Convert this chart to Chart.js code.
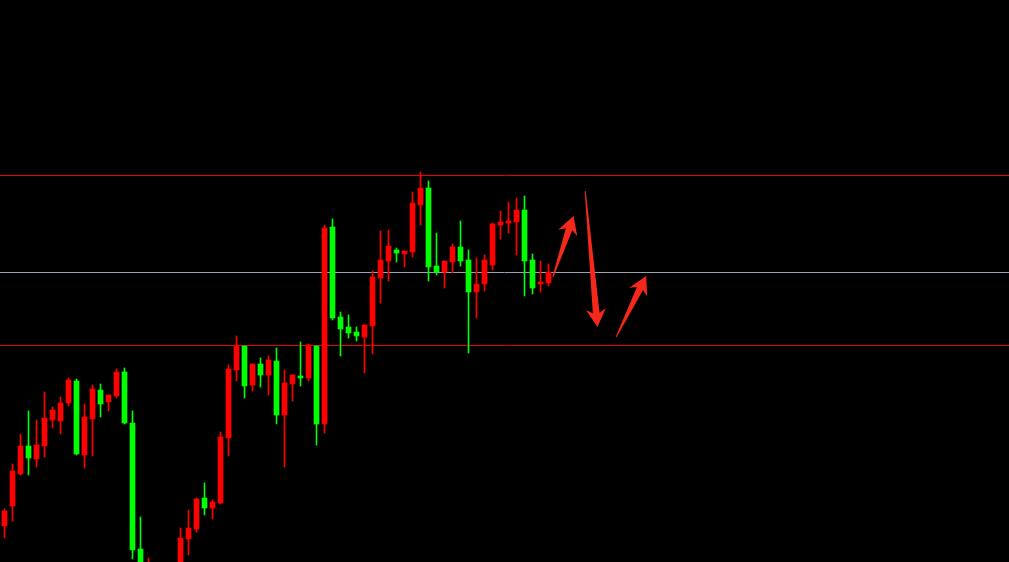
<!DOCTYPE html>
<html>
<head>
<meta charset="utf-8">
<script src="https://cdn.jsdelivr.net/npm/chart.js@4/dist/chart.umd.min.js"></script>
<style>
  html, body { margin: 0; padding: 0; background: #000; }
  #wrap { width: 1009px; height: 562px; }
</style>
</head>
<body>
<div id="wrap"><canvas id="kchart" width="1009" height="562"></canvas></div>
<script>
// candle data (open / high / low / close), one entry per bar
const opens  = [1036,1056,1088,1116,1103,1116,1142,1141,1159,1181,1107,1143,1172,1160,1166,1190,1139,1013,970,972,985,978,988,1023,1033,1064,1054,1059,1124,1192,1216,1177,1198,1187,1201,1147,1178,1186,1184,1216,1138,1335,1245,1235,1230,1225,1236,1284,1301,1312,1308,1310,1357,1374,1296,1290,1300,1315,1302,1270,1278,1297,1337,1339,1340,1352,1302,1278,1279];
const highs  = [1053,1098,1128,1151,1142,1170,1155,1165,1184,1183,1158,1177,1178,1167,1193,1194,1151,1045,1004,992,996,995,1034,1052,1064,1079,1062,1130,1197,1226,1216,1198,1204,1206,1214,1192,1187,1220,1218,1216,1337,1343,1250,1247,1235,1237,1291,1331,1332,1314,1311,1370,1390,1381,1329,1301,1318,1341,1312,1304,1307,1339,1351,1360,1364,1366,1308,1301,1298];
const lows   = [1024,1041,1087,1087,1095,1105,1134,1128,1156,1107,1094,1106,1145,1151,1164,1138,1003,975,960,962,970,968,980,1007,1030,1047,1043,1058,1106,1181,1164,1171,1175,1167,1138,1095,1161,1176,1181,1117,1129,1242,1206,1224,1221,1189,1208,1259,1281,1300,1295,1305,1337,1281,1287,1274,1289,1296,1209,1244,1271,1292,1323,1329,1307,1266,1268,1270,1276];
const closes = [1051,1091,1116,1104,1117,1144,1152,1159,1182,1108,1145,1173,1158,1167,1190,1139,1012,985,990,988,978,990,1024,1034,1063,1054,1060,1125,1193,1216,1176,1198,1187,1202,1147,1179,1187,1184,1217,1138,1334,1244,1233,1229,1226,1237,1285,1302,1316,1309,1311,1359,1374,1295,1290,1301,1315,1301,1270,1278,1302,1338,1340,1341,1352,1301,1274,1280,1290];

// horizontal levels
const redLevels = [1387, 1217];
const grayLevels = [1290];

// arrows: [fromIndex, fromPrice, toIndex, toPrice]
const arrows = [
    [68.55, 1285, 71.13, 1346],
    [72.59, 1371, 74.12, 1235],
    [76.46, 1225, 80.21, 1286]
];

const UP = '#ff0000';
const DOWN = '#00ff00';

const bodies = [];
const wicks = [];
const colors = [];
for (let i = 0; i < opens.length; i++) {
    bodies.push({ x: i, y: [opens[i], closes[i]] });
    wicks.push({ x: i, y: [lows[i], highs[i]] });
    colors.push(closes[i] >= opens[i] ? UP : DOWN);
}

const levelsPlugin = {
    id: 'levels',
    beforeDatasetsDraw(chart) {
        const { ctx, chartArea, scales } = chart;
        ctx.save();
        ctx.lineWidth = 1;
        const drawLevel = (v, color) => {
            const y = Math.round(scales.y.getPixelForValue(v)) + 0.5;
            ctx.strokeStyle = color;
            ctx.beginPath();
            ctx.moveTo(chartArea.left, y);
            ctx.lineTo(chartArea.right, y);
            ctx.stroke();
        };
        redLevels.forEach(v => drawLevel(v, '#e80000'));
        grayLevels.forEach(v => drawLevel(v, '#98a3b4'));
        ctx.restore();
    }
};

const arrowPlugin = {
    id: 'arrows',
    afterDatasetsDraw(chart) {
        const { ctx, scales } = chart;
        ctx.save();
        ctx.fillStyle = '#f5281c';
        arrows.forEach(a => {
            const tx = scales.x.getPixelForValue(a[0]);
            const ty = scales.y.getPixelForValue(a[1]);
            const px = scales.x.getPixelForValue(a[2]);
            const py = scales.y.getPixelForValue(a[3]);
            const len = Math.hypot(px - tx, py - ty);
            const ux = (px - tx) / len, uy = (py - ty) / len;
            const nx = -uy, ny = ux;
            const join = 14, back = 18, wing = 10, shaft = 3.4;
            ctx.beginPath();
            ctx.moveTo(tx + nx * 0.5, ty + ny * 0.5);
            ctx.lineTo(px - ux * join + nx * shaft, py - uy * join + ny * shaft);
            ctx.lineTo(px - ux * back + nx * wing, py - uy * back + ny * wing);
            ctx.lineTo(px, py);
            ctx.lineTo(px - ux * back - nx * wing, py - uy * back - ny * wing);
            ctx.lineTo(px - ux * join - nx * shaft, py - uy * join - ny * shaft);
            ctx.lineTo(tx - nx * 0.5, ty - ny * 0.5);
            ctx.closePath();
            ctx.fill();
        });
        ctx.restore();
    }
};

const xMin = -4.5 / 8;

new Chart(document.getElementById('kchart'), {
    type: 'bar',
    data: {
        datasets: [
            {
                label: 'wick',
                data: wicks,
                backgroundColor: colors,
                barThickness: 1,
                grouped: false,
                order: 2
            },
            {
                label: 'body',
                data: bodies,
                backgroundColor: colors,
                barThickness: 5,
                minBarLength: 1,
                grouped: false,
                order: 1
            }
        ]
    },
    options: {
        responsive: false,
        animation: false,
        layout: { padding: 0 },
        plugins: {
            legend: { display: false },
            tooltip: { enabled: false }
        },
        scales: {
            x: {
                type: 'linear',
                display: false,
                min: xMin,
                max: xMin + 1009 / 8,
                offset: false
            },
            y: {
                display: false,
                min: 1000,
                max: 1562
            }
        }
    },
    plugins: [levelsPlugin, arrowPlugin]
});
</script>
</body>
</html>
